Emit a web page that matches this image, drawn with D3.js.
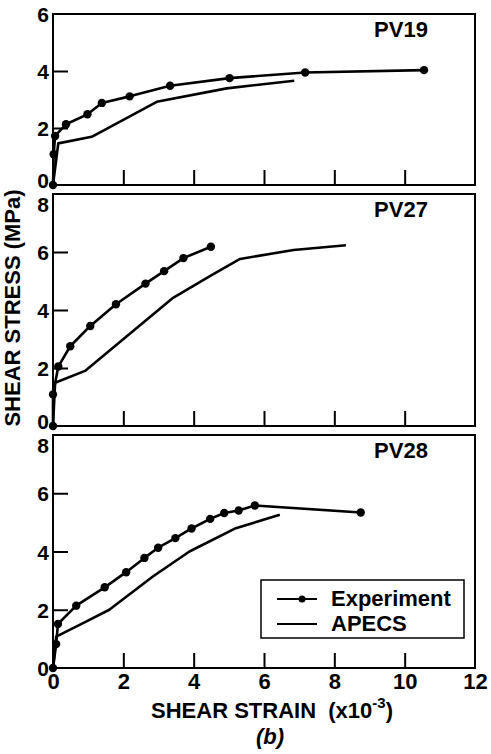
<!DOCTYPE html>
<html>
<head>
<meta charset="utf-8">
<script src="https://cdn.jsdelivr.net/npm/d3@7"></script>
<style>
  body { margin: 0; background: #fff; }
  text { font-family: "Liberation Sans", Arial, sans-serif; font-weight: bold; fill: #000; }
</style>
</head>
<body>
<script>
// data, strain in x10^-3, stress in MPa
var pv19Exp = [[0,0],[0.02,1.08],[0.06,1.72],[0.37,2.13],[0.98,2.48],[1.39,2.88],[2.18,3.11],[3.33,3.48],[5.02,3.75],[7.17,3.95],[10.55,4.03]];
var pv19Apecs = [[0,0],[0.15,1.46],[1.1,1.69],[2.95,2.92],[4.94,3.39],[6.86,3.66]];

var pv27Exp = [[0,0],[0,1.09],[0.15,2.05],[0.49,2.75],[1.06,3.45],[1.79,4.2],[2.63,4.91],[3.16,5.34],[3.71,5.79],[4.49,6.18]];
var pv27Apecs = [[0,0],[0.06,1.49],[0.91,1.9],[3.39,4.4],[4.51,5.2],[5.32,5.76],[6.84,6.07],[8.33,6.23]];

var pv28Exp = [[0,0],[0.09,0.82],[0.14,1.51],[0.66,2.14],[1.47,2.77],[2.08,3.29],[2.6,3.78],[2.99,4.13],[3.48,4.46],[3.94,4.79],[4.47,5.12],[4.87,5.32],[5.28,5.41],[5.74,5.58],[8.75,5.34]];
var pv28Apecs = [[0,0],[0.09,1.08],[0.94,1.59],[1.6,2.0],[2.84,3.14],[3.88,4.0],[5.2,4.8],[6.45,5.26]];

var panelNames = ["PV19", "PV27", "PV28"];
var yMaxes = [6, 8, 8];
var xTicks = [0, 2, 4, 6, 8, 10, 12];

var svg = d3.select("body").append("svg")
    .attr("width", 491)
    .attr("height", 754);

var x = d3.scaleLinear().domain([0, 12]).range([53, 475]);

var panels = [
    {name: panelNames[0], exp: pv19Exp, apecs: pv19Apecs, yMax: yMaxes[0], top: 14, bottom: 185},
    {name: panelNames[1], exp: pv27Exp, apecs: pv27Apecs, yMax: yMaxes[1], top: 194, bottom: 426},
    {name: panelNames[2], exp: pv28Exp, apecs: pv28Apecs, yMax: yMaxes[2], top: 435, bottom: 668}
];

panels.forEach(function(p, i) {
    var y = d3.scaleLinear().domain([0, p.yMax]).range([p.bottom, p.top]);
    var g = svg.append("g");

    // frame
    g.append("rect")
        .attr("x", x(0)).attr("y", y(p.yMax))
        .attr("width", x(12) - x(0)).attr("height", y(0) - y(p.yMax))
        .attr("fill", "none").attr("stroke", "#000").attr("stroke-width", 2);

    // inward ticks on the bottom edge
    var xAxis = d3.axisBottom(x).tickValues([2, 4, 6, 8, 10]).tickSize(-15).tickFormat("");
    var xg = g.append("g").attr("transform", `translate(0, ${y(0)})`).call(xAxis);
    xg.select(".domain").remove();
    xg.selectAll("line").attr("stroke-width", 2);

    // y axis with inward ticks
    var yTicks = d3.range(0, p.yMax + 1, 2);
    var yAxis = d3.axisLeft(y).tickValues(yTicks).tickSize(-15).tickPadding(4).tickFormat(d3.format("d"));
    var yg = g.append("g").attr("transform", `translate(${x(0)}, 0)`).call(yAxis);
    yg.select(".domain").remove();
    yg.selectAll("line").attr("stroke-width", 2)
        .attr("display", d => (d == 0 || d == p.yMax) ? "none" : null);
    // where two panels meet, the 0 and the 8 are pushed apart a little
    yg.selectAll("text").attr("font-size", 21).attr("font-family", null)
        .attr("dy", function(d) {
            var shift = 0;
            if (d == p.yMax && i > 0) shift = 10;
            if (d == 0 && i < 2) shift = -5;
            return (7.5 + shift) + "px";
        });

    if (i == 2) {
        var xLab = d3.axisBottom(x).tickValues(xTicks).tickSize(0).tickPadding(5);
        var lg = g.append("g").attr("transform", `translate(0, ${y(0)})`).call(xLab);
        lg.select(".domain").remove();
        lg.selectAll("text").attr("font-size", 22).attr("font-family", null);
    }

    var line = d3.line().x(d => x(d[0])).y(d => y(d[1]));

    g.append("path").datum(p.apecs)
        .attr("d", line)
        .attr("fill", "none").attr("stroke", "#000").attr("stroke-width", 2.6)
        .attr("stroke-linejoin", "round");

    g.append("path").datum(p.exp)
        .attr("d", line)
        .attr("fill", "none").attr("stroke", "#000").attr("stroke-width", 2.6)
        .attr("stroke-linejoin", "round");

    g.selectAll("circle").data(p.exp).enter()
        .append("circle")
        .attr("cx", d => x(d[0]))
        .attr("cy", d => y(d[1]))
        .attr("r", 4.2)
        .attr("fill", "#000");

    g.append("text")
        .attr("x", 401).attr("y", y(p.yMax) + 23)
        .attr("text-anchor", "middle")
        .attr("font-size", 22)
        .text(p.name);
});

// legend
var legend = svg.append("g");
legend.append("rect")
    .attr("x", 261).attr("y", 580).attr("width", 203).attr("height", 58)
    .attr("fill", "#fff").attr("stroke", "#000").attr("stroke-width", 1.5);
legend.append("line").attr("x1", 277).attr("x2", 317).attr("y1", 599).attr("y2", 599)
    .attr("stroke", "#000").attr("stroke-width", 2);
legend.append("circle").attr("cx", 302).attr("cy", 599).attr("r", 3.5).attr("fill", "#000");
legend.append("text").attr("x", 331).attr("y", 606).attr("font-size", 22).text("Experiment");
legend.append("line").attr("x1", 277).attr("x2", 317).attr("y1", 624).attr("y2", 624)
    .attr("stroke", "#000").attr("stroke-width", 2);
legend.append("text").attr("x", 331).attr("y", 631).attr("font-size", 22).text("APECS");

// axis titles
svg.append("text")
    .attr("transform", "translate(20, 308) rotate(-90)")
    .attr("text-anchor", "middle")
    .attr("font-size", 22)
    .text("SHEAR STRESS (MPa)");

var xt = svg.append("text")
    .attr("x", 272).attr("y", 718)
    .attr("text-anchor", "middle")
    .attr("font-size", 22);
xt.append("tspan").text("SHEAR STRAIN\u00a0\u00a0(x10");
xt.append("tspan").attr("dy", -10).attr("font-size", 15).text("-3");
xt.append("tspan").attr("dy", 10).text(")");

svg.append("text")
    .attr("x", 270).attr("y", 744)
    .attr("text-anchor", "middle")
    .attr("font-size", 22)
    .attr("font-style", "italic")
    .text("(b)");
</script>
</body>
</html>
